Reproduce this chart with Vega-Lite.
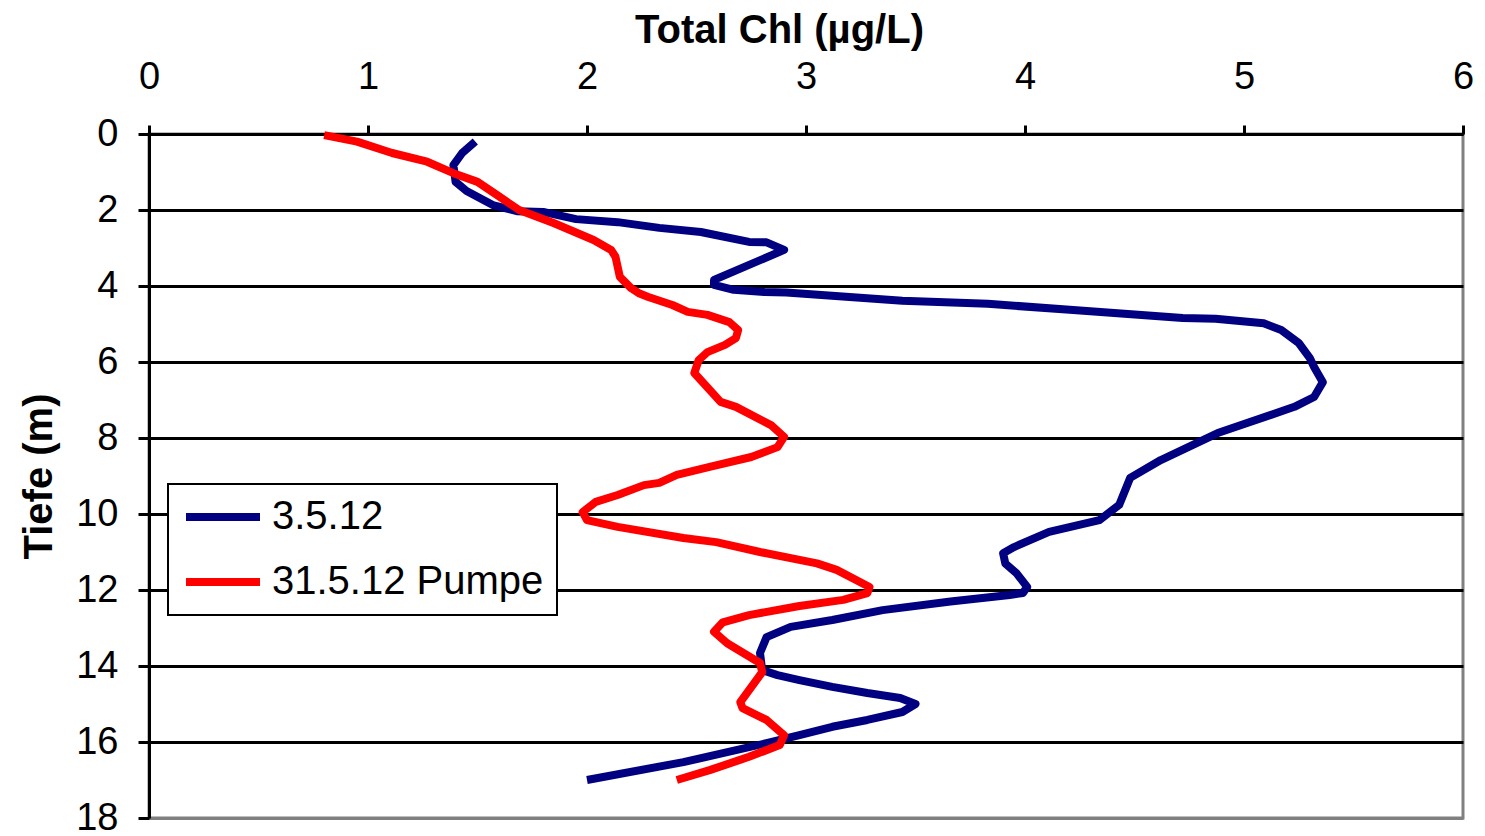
{
  "$schema": "https://vega.github.io/schema/vega-lite/v6.json",
  "width": 1314,
  "height": 684,
  "autosize": {"type": "none"},
  "padding": {"left": 149, "top": 134, "right": 22, "bottom": 18},
  "background": "white",
  "config": {
    "view": {"stroke": "#808080", "strokeWidth": 3},
    "font": "Liberation Sans"
  },
  "data": {
    "values": [
      {"series": "3.5.12", "chl": 1.49, "depth": 0.2},
      {"series": "3.5.12", "chl": 1.43, "depth": 0.5},
      {"series": "3.5.12", "chl": 1.39, "depth": 0.82},
      {"series": "3.5.12", "chl": 1.40, "depth": 1.26},
      {"series": "3.5.12", "chl": 1.45, "depth": 1.5},
      {"series": "3.5.12", "chl": 1.57, "depth": 1.87},
      {"series": "3.5.12", "chl": 1.68, "depth": 2.03},
      {"series": "3.5.12", "chl": 1.80, "depth": 2.05},
      {"series": "3.5.12", "chl": 1.95, "depth": 2.24},
      {"series": "3.5.12", "chl": 2.14, "depth": 2.32},
      {"series": "3.5.12", "chl": 2.33, "depth": 2.47},
      {"series": "3.5.12", "chl": 2.52, "depth": 2.58},
      {"series": "3.5.12", "chl": 2.74, "depth": 2.84},
      {"series": "3.5.12", "chl": 2.82, "depth": 2.85},
      {"series": "3.5.12", "chl": 2.90, "depth": 3.05},
      {"series": "3.5.12", "chl": 2.58, "depth": 3.84},
      {"series": "3.5.12", "chl": 2.58, "depth": 3.97},
      {"series": "3.5.12", "chl": 2.67, "depth": 4.1},
      {"series": "3.5.12", "chl": 2.81, "depth": 4.16},
      {"series": "3.5.12", "chl": 2.91, "depth": 4.17},
      {"series": "3.5.12", "chl": 3.44, "depth": 4.39},
      {"series": "3.5.12", "chl": 3.83, "depth": 4.47},
      {"series": "3.5.12", "chl": 4.22, "depth": 4.63},
      {"series": "3.5.12", "chl": 4.72, "depth": 4.84},
      {"series": "3.5.12", "chl": 4.87, "depth": 4.86},
      {"series": "3.5.12", "chl": 5.09, "depth": 4.98},
      {"series": "3.5.12", "chl": 5.17, "depth": 5.16},
      {"series": "3.5.12", "chl": 5.25, "depth": 5.5},
      {"series": "3.5.12", "chl": 5.30, "depth": 5.89},
      {"series": "3.5.12", "chl": 5.32, "depth": 6.13},
      {"series": "3.5.12", "chl": 5.36, "depth": 6.53},
      {"series": "3.5.12", "chl": 5.32, "depth": 6.92},
      {"series": "3.5.12", "chl": 5.23, "depth": 7.18},
      {"series": "3.5.12", "chl": 4.88, "depth": 7.87},
      {"series": "3.5.12", "chl": 4.62, "depth": 8.58},
      {"series": "3.5.12", "chl": 4.48, "depth": 9.05},
      {"series": "3.5.12", "chl": 4.43, "depth": 9.76},
      {"series": "3.5.12", "chl": 4.34, "depth": 10.16},
      {"series": "3.5.12", "chl": 4.11, "depth": 10.47},
      {"series": "3.5.12", "chl": 3.95, "depth": 10.87},
      {"series": "3.5.12", "chl": 3.90, "depth": 11.03},
      {"series": "3.5.12", "chl": 3.91, "depth": 11.3},
      {"series": "3.5.12", "chl": 3.96, "depth": 11.55},
      {"series": "3.5.12", "chl": 4.01, "depth": 11.92},
      {"series": "3.5.12", "chl": 3.99, "depth": 12.08},
      {"series": "3.5.12", "chl": 3.93, "depth": 12.13},
      {"series": "3.5.12", "chl": 3.66, "depth": 12.3},
      {"series": "3.5.12", "chl": 3.35, "depth": 12.53},
      {"series": "3.5.12", "chl": 3.12, "depth": 12.79},
      {"series": "3.5.12", "chl": 2.93, "depth": 12.97},
      {"series": "3.5.12", "chl": 2.82, "depth": 13.24},
      {"series": "3.5.12", "chl": 2.79, "depth": 13.66},
      {"series": "3.5.12", "chl": 2.80, "depth": 14.11},
      {"series": "3.5.12", "chl": 2.87, "depth": 14.24},
      {"series": "3.5.12", "chl": 2.97, "depth": 14.37},
      {"series": "3.5.12", "chl": 3.12, "depth": 14.55},
      {"series": "3.5.12", "chl": 3.28, "depth": 14.71},
      {"series": "3.5.12", "chl": 3.43, "depth": 14.84},
      {"series": "3.5.12", "chl": 3.50, "depth": 15.0},
      {"series": "3.5.12", "chl": 3.44, "depth": 15.21},
      {"series": "3.5.12", "chl": 3.28, "depth": 15.42},
      {"series": "3.5.12", "chl": 3.12, "depth": 15.6},
      {"series": "3.5.12", "chl": 2.97, "depth": 15.82},
      {"series": "3.5.12", "chl": 2.82, "depth": 16.03},
      {"series": "3.5.12", "chl": 2.44, "depth": 16.53},
      {"series": "3.5.12", "chl": 2.00, "depth": 17.0},
      {"series": "31.5.12 Pumpe", "chl": 0.80, "depth": 0.03},
      {"series": "31.5.12 Pumpe", "chl": 0.95, "depth": 0.2},
      {"series": "31.5.12 Pumpe", "chl": 1.11, "depth": 0.5},
      {"series": "31.5.12 Pumpe", "chl": 1.27, "depth": 0.73},
      {"series": "31.5.12 Pumpe", "chl": 1.39, "depth": 1.03},
      {"series": "31.5.12 Pumpe", "chl": 1.50, "depth": 1.26},
      {"series": "31.5.12 Pumpe", "chl": 1.59, "depth": 1.61},
      {"series": "31.5.12 Pumpe", "chl": 1.69, "depth": 2.0},
      {"series": "31.5.12 Pumpe", "chl": 1.85, "depth": 2.35},
      {"series": "31.5.12 Pumpe", "chl": 2.03, "depth": 2.79},
      {"series": "31.5.12 Pumpe", "chl": 2.11, "depth": 3.05},
      {"series": "31.5.12 Pumpe", "chl": 2.13, "depth": 3.23},
      {"series": "31.5.12 Pumpe", "chl": 2.15, "depth": 3.76},
      {"series": "31.5.12 Pumpe", "chl": 2.20, "depth": 4.05},
      {"series": "31.5.12 Pumpe", "chl": 2.24, "depth": 4.2},
      {"series": "31.5.12 Pumpe", "chl": 2.28, "depth": 4.29},
      {"series": "31.5.12 Pumpe", "chl": 2.39, "depth": 4.5},
      {"series": "31.5.12 Pumpe", "chl": 2.46, "depth": 4.68},
      {"series": "31.5.12 Pumpe", "chl": 2.55, "depth": 4.76},
      {"series": "31.5.12 Pumpe", "chl": 2.65, "depth": 4.95},
      {"series": "31.5.12 Pumpe", "chl": 2.69, "depth": 5.16},
      {"series": "31.5.12 Pumpe", "chl": 2.68, "depth": 5.37},
      {"series": "31.5.12 Pumpe", "chl": 2.63, "depth": 5.55},
      {"series": "31.5.12 Pumpe", "chl": 2.55, "depth": 5.74},
      {"series": "31.5.12 Pumpe", "chl": 2.51, "depth": 5.95},
      {"series": "31.5.12 Pumpe", "chl": 2.49, "depth": 6.29},
      {"series": "31.5.12 Pumpe", "chl": 2.61, "depth": 7.05},
      {"series": "31.5.12 Pumpe", "chl": 2.68, "depth": 7.18},
      {"series": "31.5.12 Pumpe", "chl": 2.84, "depth": 7.66},
      {"series": "31.5.12 Pumpe", "chl": 2.90, "depth": 7.97},
      {"series": "31.5.12 Pumpe", "chl": 2.87, "depth": 8.24},
      {"series": "31.5.12 Pumpe", "chl": 2.75, "depth": 8.5},
      {"series": "31.5.12 Pumpe", "chl": 2.56, "depth": 8.76},
      {"series": "31.5.12 Pumpe", "chl": 2.41, "depth": 8.97},
      {"series": "31.5.12 Pumpe", "chl": 2.33, "depth": 9.18},
      {"series": "31.5.12 Pumpe", "chl": 2.26, "depth": 9.24},
      {"series": "31.5.12 Pumpe", "chl": 2.14, "depth": 9.5},
      {"series": "31.5.12 Pumpe", "chl": 2.04, "depth": 9.68},
      {"series": "31.5.12 Pumpe", "chl": 1.98, "depth": 9.95},
      {"series": "31.5.12 Pumpe", "chl": 2.00, "depth": 10.16},
      {"series": "31.5.12 Pumpe", "chl": 2.14, "depth": 10.34},
      {"series": "31.5.12 Pumpe", "chl": 2.44, "depth": 10.63},
      {"series": "31.5.12 Pumpe", "chl": 2.59, "depth": 10.74},
      {"series": "31.5.12 Pumpe", "chl": 2.79, "depth": 11.0},
      {"series": "31.5.12 Pumpe", "chl": 3.05, "depth": 11.3},
      {"series": "31.5.12 Pumpe", "chl": 3.14, "depth": 11.47},
      {"series": "31.5.12 Pumpe", "chl": 3.29, "depth": 11.92},
      {"series": "31.5.12 Pumpe", "chl": 3.28, "depth": 12.08},
      {"series": "31.5.12 Pumpe", "chl": 3.17, "depth": 12.26},
      {"series": "31.5.12 Pumpe", "chl": 2.97, "depth": 12.42},
      {"series": "31.5.12 Pumpe", "chl": 2.74, "depth": 12.66},
      {"series": "31.5.12 Pumpe", "chl": 2.62, "depth": 12.85},
      {"series": "31.5.12 Pumpe", "chl": 2.58, "depth": 13.1},
      {"series": "31.5.12 Pumpe", "chl": 2.64, "depth": 13.4},
      {"series": "31.5.12 Pumpe", "chl": 2.79, "depth": 13.92},
      {"series": "31.5.12 Pumpe", "chl": 2.80, "depth": 14.16},
      {"series": "31.5.12 Pumpe", "chl": 2.70, "depth": 14.95},
      {"series": "31.5.12 Pumpe", "chl": 2.71, "depth": 15.11},
      {"series": "31.5.12 Pumpe", "chl": 2.82, "depth": 15.42},
      {"series": "31.5.12 Pumpe", "chl": 2.90, "depth": 15.82},
      {"series": "31.5.12 Pumpe", "chl": 2.88, "depth": 16.08},
      {"series": "31.5.12 Pumpe", "chl": 2.74, "depth": 16.39},
      {"series": "31.5.12 Pumpe", "chl": 2.56, "depth": 16.74},
      {"series": "31.5.12 Pumpe", "chl": 2.41, "depth": 17.0}
    ]
  },
  "mark": {"type": "line", "strokeWidth": 8, "strokeJoin": "round", "strokeCap": "butt"},
  "encoding": {
    "x": {
      "field": "chl",
      "type": "quantitative",
      "scale": {"domain": [0, 6], "nice": false, "zero": false},
      "axis": {
        "orient": "top",
        "values": [0, 1, 2, 3, 4, 5, 6],
        "title": "Total Chl (µg/L)",
        "titleFontSize": 40,
        "titleFontWeight": "bold",
        "titleColor": "black",
        "titlePadding": 8,
        "titleX": 630,
        "titleAlign": "center",
        "labelFontSize": 38,
        "labelColor": "black",
        "labelPadding": 29,
        "labelFlush": false,
        "tickSize": 9,
        "tickWidth": 3,
        "tickColor": "black",
        "domainColor": "black",
        "domainWidth": 3,
        "grid": false
      }
    },
    "y": {
      "field": "depth",
      "type": "quantitative",
      "scale": {"domain": [0, 18], "reverse": true, "nice": false, "zero": false},
      "axis": {
        "values": [0, 2, 4, 6, 8, 10, 12, 14, 16, 18],
        "title": "Tiefe (m)",
        "titleFontSize": 40,
        "titleFontWeight": "bold",
        "titleColor": "black",
        "titlePadding": 16,
        "labelFontSize": 38,
        "labelColor": "black",
        "labelPadding": 20,
        "labelFlush": false,
        "tickSize": 11,
        "tickWidth": 3,
        "tickColor": "black",
        "domainColor": "black",
        "domainWidth": 3,
        "grid": true,
        "gridColor": {"condition": {"test": "datum.value == 18", "value": "#808080"}, "value": "black"},
        "gridWidth": 3,
        "gridOpacity": 1
      }
    },
    "color": {
      "field": "series",
      "type": "nominal",
      "scale": {"domain": ["3.5.12", "31.5.12 Pumpe"], "range": ["#000080", "#FF0000"]},
      "legend": {
        "title": null,
        "orient": "none",
        "legendX": 19,
        "legendY": 350,
        "fillColor": "white",
        "strokeColor": "black",
        "padding": 13,
        "rowPadding": 25,
        "labelFontSize": 40,
        "labelColor": "black",
        "labelLimit": 0,
        "labelOffset": 29,
        "symbolType": "M-7.4,0H7.4",
        "symbolSize": 100,
        "symbolStrokeWidth": 8,
        "symbolOffset": 22,
        "encode": {"legend": {"update": {"strokeWidth": {"value": 2}}}}
      }
    },
    "order": {"field": "depth", "type": "quantitative"}
  }
}
